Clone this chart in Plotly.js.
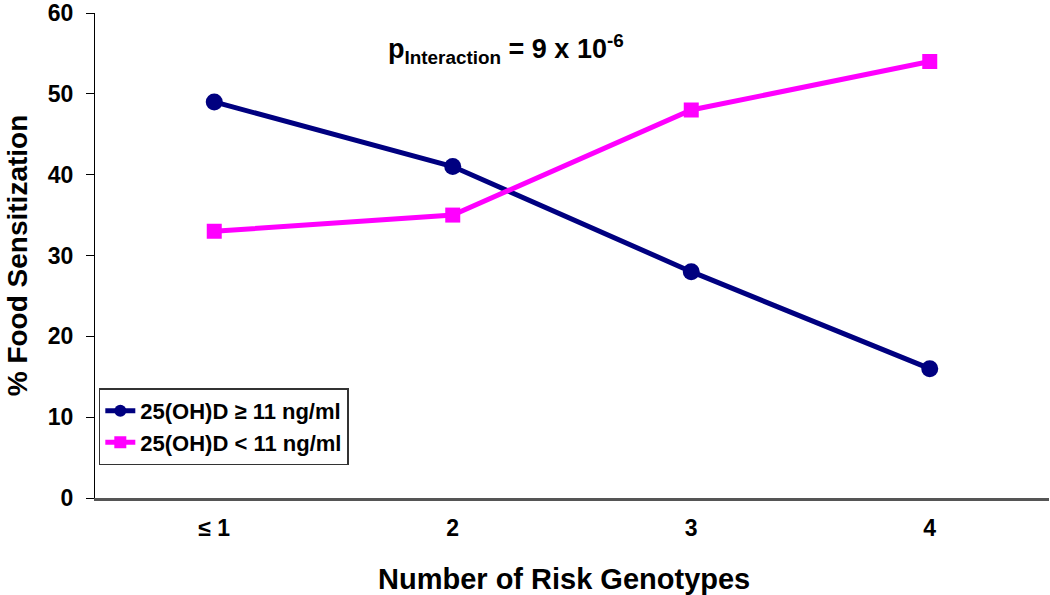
<!DOCTYPE html>
<html>
<head>
<meta charset="utf-8">
<script src="https://cdn.plot.ly/plotly-3.0.1.min.js"></script>
<style>html,body{margin:0;padding:0;background:#fff;}#chart{width:1050px;height:595px;}</style>
</head>
<body>
<div id="chart"></div>
<script>
var categories = ["≤ 1", "2", "3", "4"];
var highVitD = [49, 41, 28, 16];
var lowVitD = [33, 35, 48, 54];
var seriesNames = ["25(OH)D ≥ 11 ng/ml", "25(OH)D < 11 ng/ml"];
var yTicks = [0, 10, 20, 30, 40, 50, 60];
var xTitle = "Number of Risk Genotypes";
var yTitle = "% Food Sensitization";
var pText = "p<sub>Interaction</sub> = 9 x 10<sup>-6</sup>";

var font = "Liberation Sans, Arial, sans-serif";
var traces = [
  {x: categories, y: highVitD, name: seriesNames[0], type: "scatter", mode: "lines+markers",
   line: {color: "#000080", width: 5}, marker: {symbol: "circle", size: 17, color: "#000080"}},
  {x: categories, y: lowVitD, name: seriesNames[1], type: "scatter", mode: "lines+markers",
   line: {color: "#FF00FF", width: 5}, marker: {symbol: "square", size: 15, color: "#FF00FF"}}
];
var layout = {
  width: 1050, height: 595,
  margin: {l: 95, r: 1, t: 13, b: 97},
  paper_bgcolor: "#fff", plot_bgcolor: "#fff",
  font: {family: font, color: "#000"},
  showlegend: true,
  legend: {x: 0.004, y: 0.226, xanchor: "left", yanchor: "top",
    bordercolor: "#333", borderwidth: 1.5, bgcolor: "#fff", itemsizing: "constant",
    font: {family: font, size: 22, color: "#000", weight: "bold"}, tracegroupgap: 2},
  xaxis: {type: "category", range: [-0.5, 3.5], showgrid: false, zeroline: false,
    showline: true, linecolor: "#555", linewidth: 2.5, ticks: "",
    tickfont: {family: font, size: 23, weight: "bold"}, ticklabelstandoff: 8},
  yaxis: {range: [0, 60], tickvals: yTicks, showgrid: false, zeroline: false,
    showline: true, linecolor: "#000", linewidth: 1, ticks: "outside", ticklen: 8, tickcolor: "#000",
    tickfont: {family: font, size: 23, weight: "bold"}, ticklabelstandoff: 8, ticklabeloverflow: "allow",
    title: {text: yTitle, font: {family: font, size: 28, weight: "bold"}, standoff: 12}},
  annotations: [
    {xref: "paper", yref: "paper", x: 0.431, y: 0.925, xanchor: "center", yanchor: "middle",
     showarrow: false, text: pText,
     font: {family: font, size: 27, weight: "bold", color: "#000"}},
    {xref: "paper", yref: "paper", x: 0.492, y: -0.166, xanchor: "center", yanchor: "middle",
     showarrow: false, text: xTitle,
     font: {family: font, size: 29, weight: "bold", color: "#000"}}
  ]
};
Plotly.newPlot("chart", traces, layout, {displayModeBar: false});
</script>
</body>
</html>
